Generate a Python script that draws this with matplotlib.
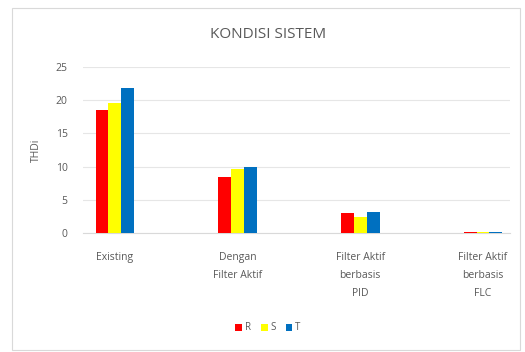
import numpy as np
import matplotlib.pyplot as plt
from matplotlib.patches import Rectangle

# Data
categories = ["Existing", "Dengan\nFilter Aktif", "Filter Aktif\nberbasis\nPID", "Filter Aktif\nberbasis\nFLC"]
series_names = ["R", "S", "T"]
r_values = [18.5, 8.4, 3.0, 0.2]
s_values = [19.6, 9.7, 2.4, 0.15]
t_values = [21.8, 9.9, 3.2, 0.15]
colors = ["#FF0000", "#FFFF00", "#0070C0"]

plt.rcParams['font.family'] = ['Open Sans', 'DejaVu Sans']

fig = plt.figure(figsize=(5.25, 3.52), dpi=100)
fig.patches.append(Rectangle((12 / 525, 2 / 352), 508 / 525, 342 / 352, transform=fig.transFigure,
                             facecolor="white", edgecolor="#D9D9D9", linewidth=0.8, zorder=-10))
ax = fig.add_axes([83 / 525, 1 - 233 / 352, 427 / 525, 166 / 352])
ax.set_facecolor("none")

x = np.arange(len(categories))
w = 0.105
for i, (vals, name) in enumerate(zip([r_values, s_values, t_values], series_names)):
    ax.bar(x + (i - 1) * w, vals, width=w, color=colors[i], label=name, zorder=3)

ax.set_ylim(0, 25)
ax.set_xlim(-0.26, 3.22)
ax.set_yticks([0, 5, 10, 15, 20, 25])
ax.yaxis.grid(True, color="#E6E6E6", linewidth=0.8, zorder=0)
ax.tick_params(axis="both", length=0, labelsize=7.5, labelcolor="#595959")
ax.tick_params(axis="y", pad=11)
ax.tick_params(axis="x", pad=14)
ax.set_xticks(x)
ax.set_xticklabels(categories, linespacing=1.85)
for s in ["top", "right", "left"]:
    ax.spines[s].set_visible(False)
ax.spines["bottom"].set_color("#D9D9D9")
ax.set_ylabel("THDi", fontsize=7.5, color="#595959", labelpad=10)

fig.text(268 / 525, 1 - 35 / 352, "KONDISI SISTEM", ha="center", va="center", fontsize=11, color="#595959")

ax.legend(loc="center", bbox_to_anchor=(268 / 525, 1 - 328 / 352), bbox_transform=fig.transFigure,
          ncol=3, frameon=False, fontsize=7, handlelength=0.7, handleheight=0.7,
          handletextpad=0.3, columnspacing=1.0, labelcolor="#595959")

fig.savefig("out.png", dpi=100)
